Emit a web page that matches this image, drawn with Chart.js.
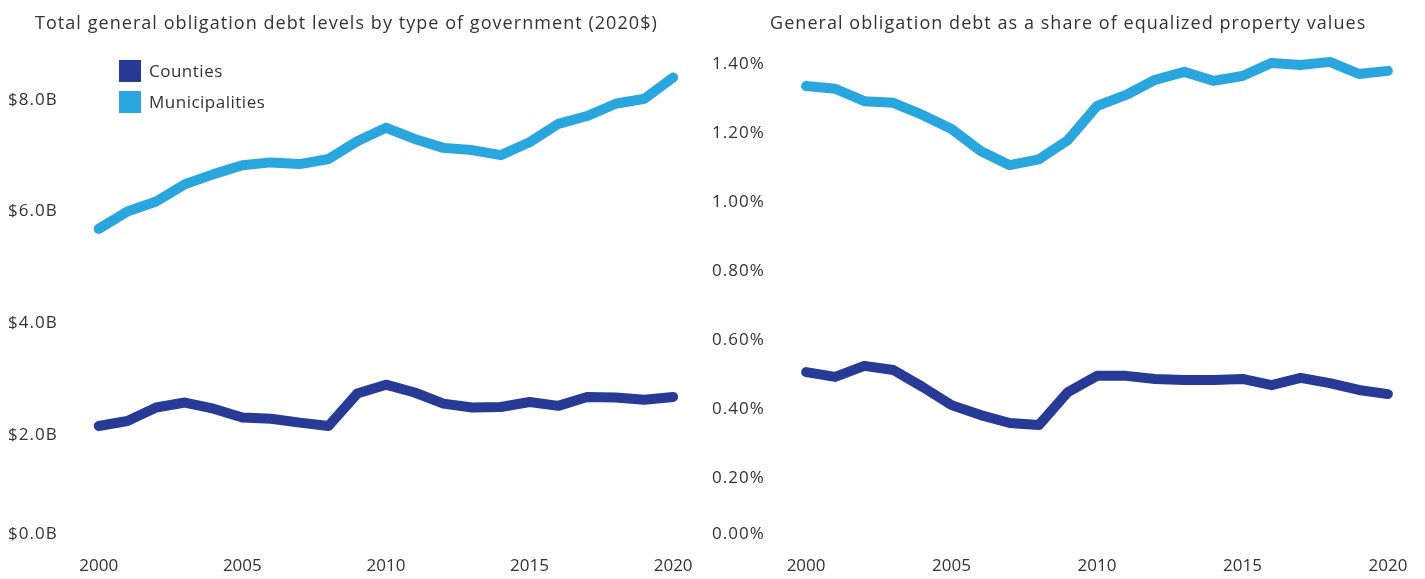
<!DOCTYPE html>
<html>
<head>
<meta charset="utf-8">
<script src="https://cdn.jsdelivr.net/npm/chart.js@4"></script>
<style>
  body { margin: 0; background: #fff; font-family: "Open Sans", sans-serif; color: #333; }
  .panel { position: absolute; top: 0; height: 579px; }
  #left { left: 0; width: 700px; }
  #right { left: 700px; width: 725px; }
  .title { position: absolute; top: 10px; font-size: 18px; line-height: 24px; letter-spacing: 1.05px; white-space: nowrap; }
  .legend { position: absolute; left: 119px; top: 55px; font-size: 17px; letter-spacing: 0.5px; }
  .legend div { display: flex; align-items: center; height: 31px; }
  .legend span { display: inline-block; width: 22px; height: 22px; margin-right: 8px; }
</style>
</head>
<body>
<div class="panel" id="left"><canvas id="debtChart"></canvas></div>
<div class="panel" id="right"><canvas id="shareChart"></canvas></div>
<div class="title" style="left:35px">Total general obligation debt levels by type of government (2020$)</div>
<div class="title" style="left:770px">General obligation debt as a share of equalized property values</div>
<div class="legend">
  <div><span style="background:#263a96"></span>Counties</div>
  <div><span style="background:#29a6dd"></span>Municipalities</div>
</div>
<script>
// --- DATOS ---
const years = [2000, 2001, 2002, 2003, 2004, 2005, 2006, 2007, 2008, 2009, 2010,
               2011, 2012, 2013, 2014, 2015, 2016, 2017, 2018, 2019, 2020];

// deuda total, miles de millones (2020$)
const countiesDebt = [2.16, 2.25, 2.49, 2.58, 2.47, 2.31, 2.29, 2.22, 2.16, 2.74, 2.90,
                      2.76, 2.56, 2.49, 2.50, 2.59, 2.52, 2.68, 2.67, 2.63, 2.68];
const municipalDebt = [5.69, 6.00, 6.18, 6.49, 6.67, 6.83, 6.88, 6.85, 6.94, 7.26, 7.50,
                       7.30, 7.14, 7.10, 7.01, 7.24, 7.57, 7.71, 7.93, 8.02, 8.40];

// deuda como % del valor de propiedad
const countiesShare = [0.507, 0.493, 0.525, 0.513, 0.464, 0.411, 0.382, 0.359, 0.353, 0.449, 0.496,
                       0.496, 0.487, 0.484, 0.484, 0.487, 0.469, 0.490, 0.475, 0.455, 0.443];
const municipalShare = [1.338, 1.330, 1.294, 1.289, 1.254, 1.213, 1.149, 1.108, 1.125, 1.181, 1.280,
                        1.312, 1.356, 1.379, 1.353, 1.367, 1.405, 1.399, 1.408, 1.373, 1.382];

const xTicks = [2000, 2005, 2010, 2015, 2020];
const debtTicks = [0, 2, 4, 6, 8];
const shareTicks = [0, 0.2, 0.4, 0.6, 0.8, 1.0, 1.2, 1.4];

const NAVY = "#263a96";
const SKY = "#29a6dd";
const TXT = "#333333";
const FONT = "'Open Sans', sans-serif";

const toPoints = (vals) => vals.map((v, i) => ({ x: years[i], y: v }));

function lineSet(label, vals, color) {
    return {
        label, data: toPoints(vals),
        borderColor: color, backgroundColor: color,
        borderWidth: 10, pointRadius: 0, tension: 0,
        borderJoinStyle: "round", borderCapStyle: "round"
    };
}

// eje Y estilo Tableau: letras algo espaciadas y la etiqueta del cero subida
const yAxisStyle = {
    id: "yAxisStyle",
    afterUpdate(chart) {
        const s = chart.scales.y;
        if (!s || s._styled) return;
        s._styled = true;
        const origItems = s.getLabelItems.bind(s);
        s.getLabelItems = function (area) {
            const items = origItems(area);
            if (items.length && !items._shifted) {
                items[0].options.translation[1] -= 12;
                items._shifted = true;
            }
            return items;
        };
        const origDraw = s.drawLabels.bind(s);
        s.drawLabels = function (area) {
            const c = this.ctx;
            c.save();
            c.letterSpacing = "1px";
            origDraw(area);
            c.restore();
        };
    }
};

// --- CONFIG COMUN ---
function buildChart(id, opts) {
    const ctx = document.getElementById(id).getContext("2d");
    return new Chart(ctx, {
        type: "line",
        data: { datasets: opts.datasets },
        plugins: [yAxisStyle],
        options: {
            responsive: true,
            maintainAspectRatio: false,
            animation: false,
            layout: { padding: { top: 44, right: opts.padRight, bottom: 0, left: opts.padLeft } },
            plugins: {
                legend: { display: false },
                tooltip: { enabled: false }
            },
            scales: {
                x: {
                    type: "linear", min: 1999, max: opts.xMax,
                    grid: { display: false, drawTicks: true, tickLength: 6 },
                    border: { display: false },
                    afterBuildTicks: (s) => { s.ticks = xTicks.map(v => ({ value: v })); },
                    ticks: {
                        color: TXT, font: { family: FONT, size: 17 }, padding: 3,
                        maxRotation: 0, callback: (v) => String(v)
                    }
                },
                y: {
                    min: 0, max: opts.yMax,
                    grid: { display: false },
                    border: { display: false },
                    afterBuildTicks: (s) => { s.ticks = opts.yTicks.map(v => ({ value: v })); },
                    afterFit: (s) => { s.width = opts.yWidth; },
                    ticks: {
                        color: TXT, font: { family: FONT, size: 17 },
                        crossAlign: "far", padding: 0,
                        callback: opts.fmt
                    }
                }
            }
        }
    });
}

buildChart("debtChart", {
    datasets: [lineSet("Counties", countiesDebt, NAVY), lineSet("Municipalities", municipalDebt, SKY)],
    xMax: 2020.9, padLeft: 8, padRight: 1, yWidth: 62, yMax: 9.0, yTicks: debtTicks,
    fmt: (v) => "$" + v.toFixed(1) + "B"
});

buildChart("shareChart", {
    datasets: [lineSet("Counties", countiesShare, NAVY), lineSet("Municipalities", municipalShare, SKY)],
    xMax: 2021, padLeft: 12, padRight: 8, yWidth: 65, yMax: 1.46, yTicks: shareTicks,
    fmt: (v) => v.toFixed(2) + "%"
});
</script>
</body>
</html>
